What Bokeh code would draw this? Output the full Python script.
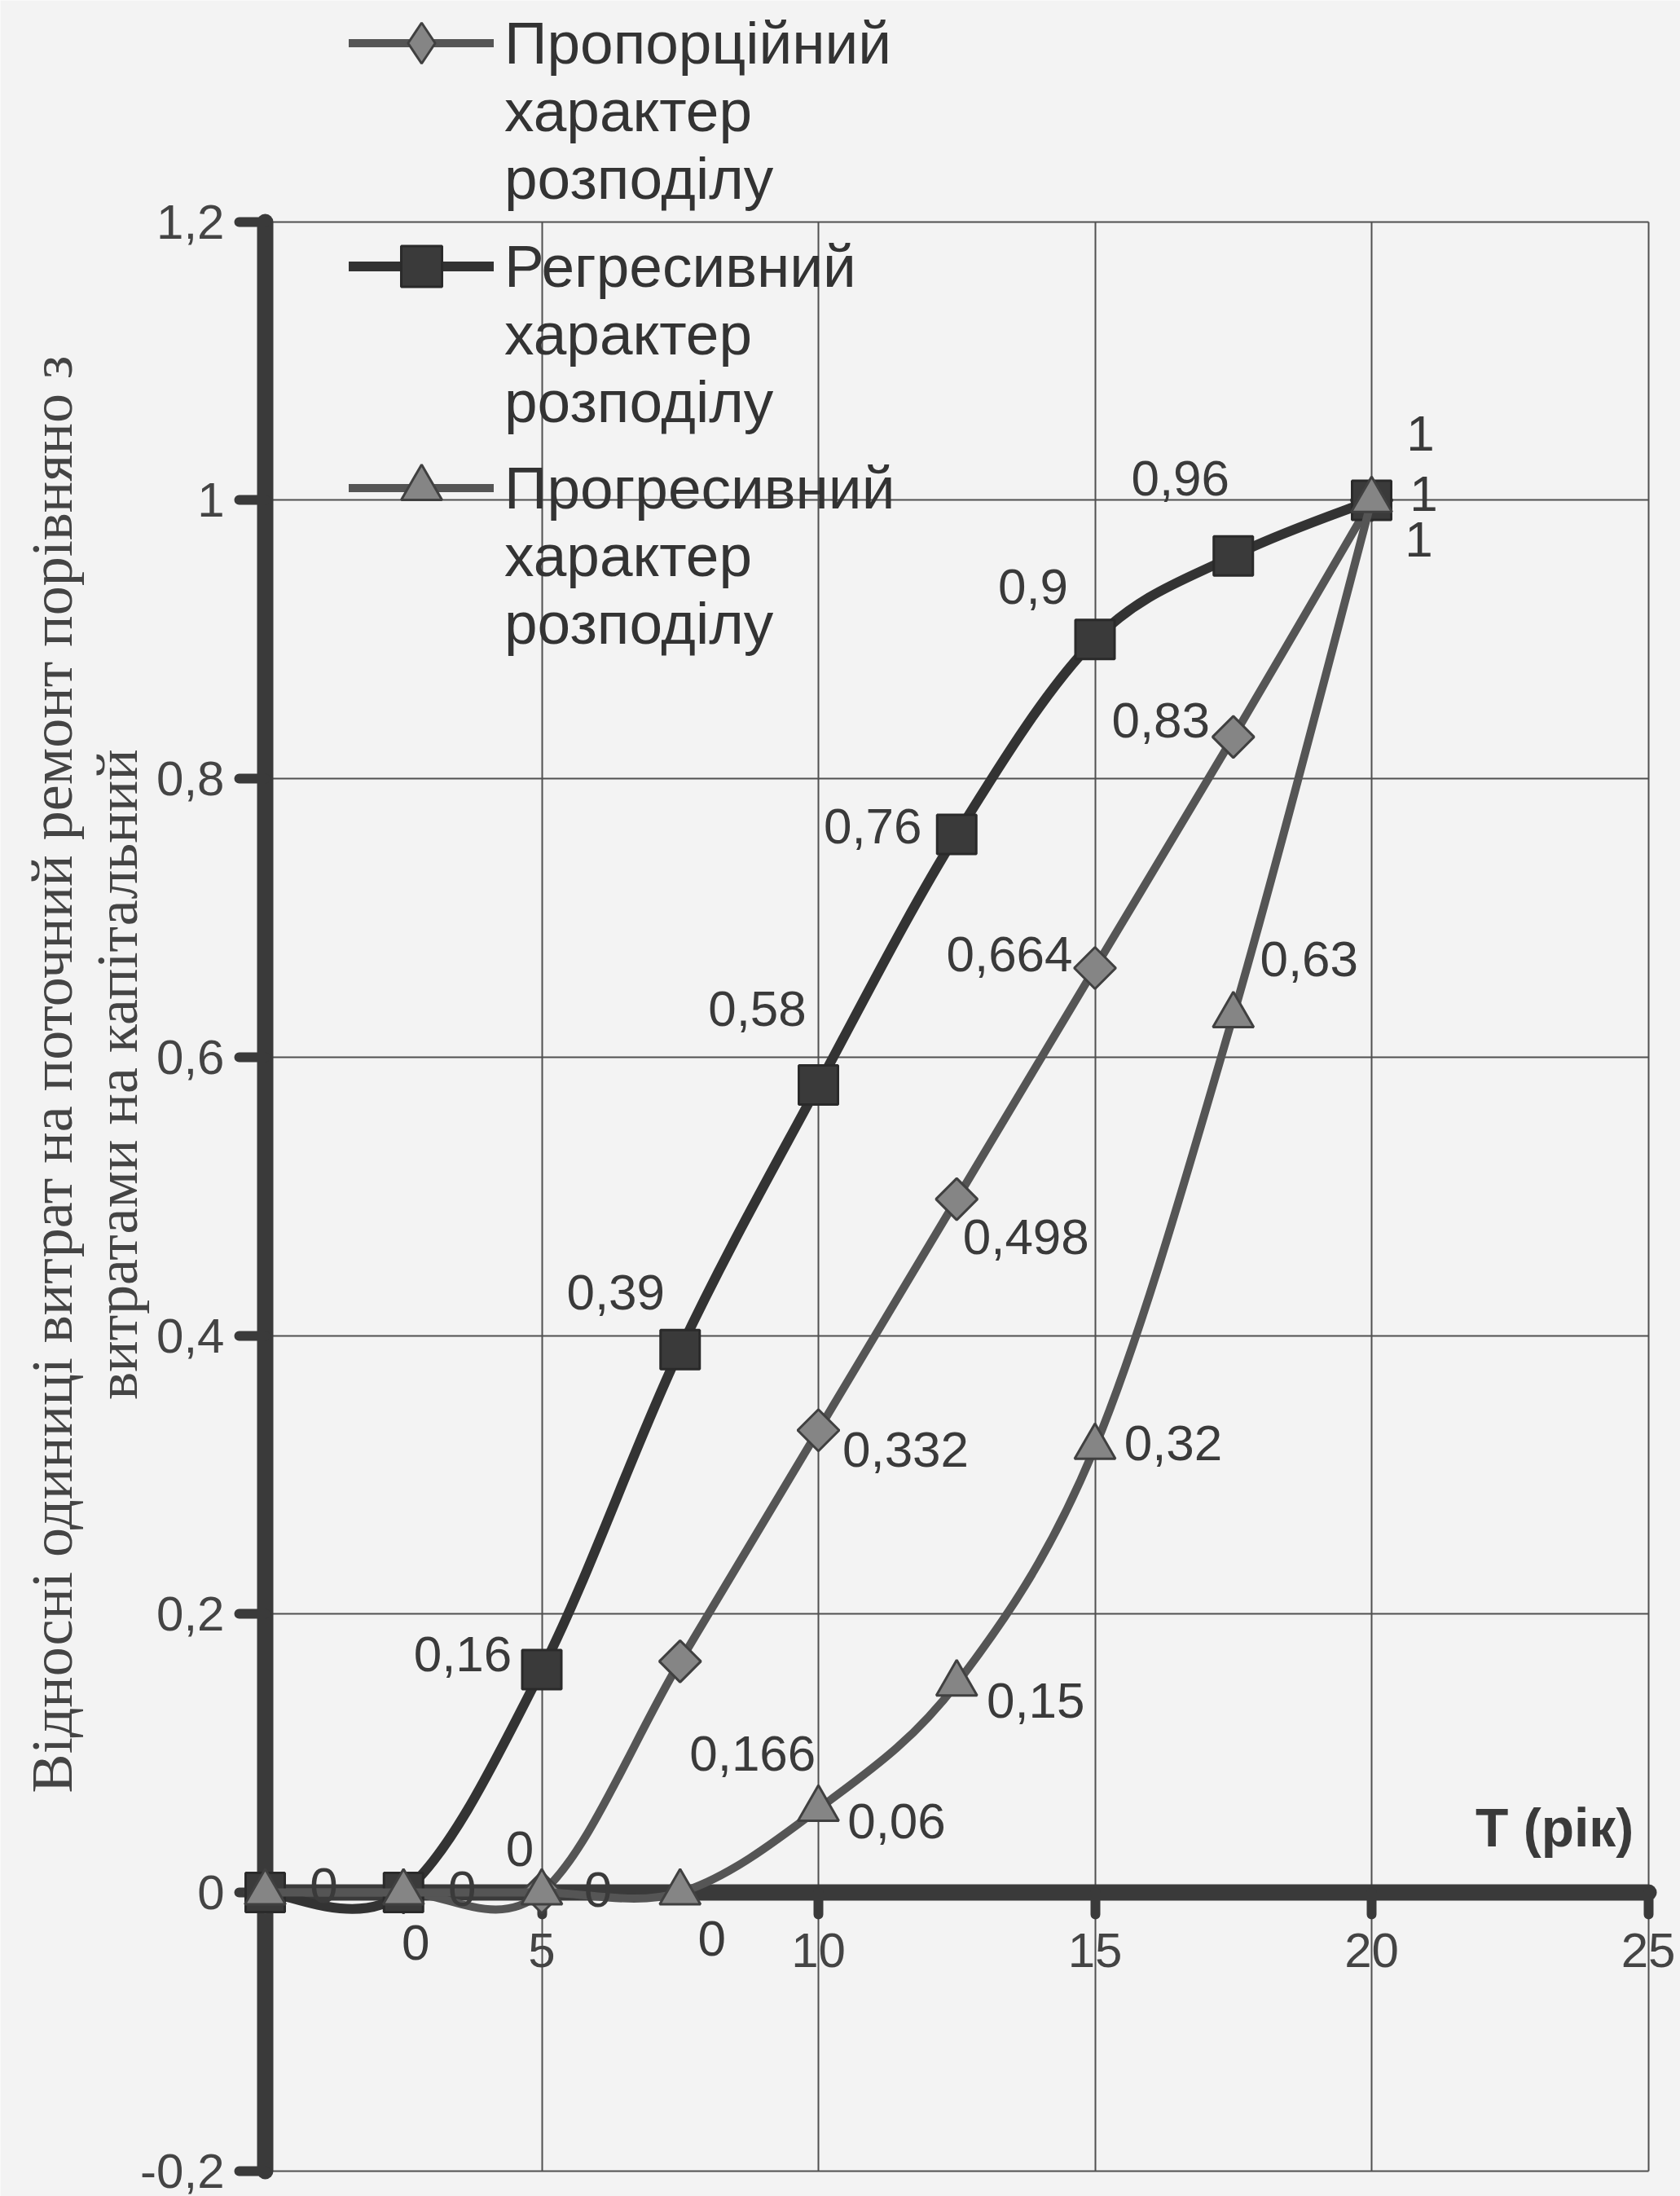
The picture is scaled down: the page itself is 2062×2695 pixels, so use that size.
import math
from bokeh.plotting import figure
from bokeh.models import (ColumnDataSource, Range1d, FixedTicker, Label, Legend,
                          LegendItem, CustomJSTickFormatter)
from bokeh.core.properties import value
from bokeh.embed import file_html
from bokeh.resources import INLINE

# ---------------- data ----------------
years = [0, 2.5, 5, 7.5, 10, 12.5, 15, 17.5, 20]
proportional = [0, 0, 0, 0.166, 0.332, 0.498, 0.664, 0.83, 1]
regressive = [0, 0, 0.16, 0.39, 0.58, 0.76, 0.9, 0.96, 1]
progressive = [0, 0, 0, 0, 0.06, 0.15, 0.32, 0.63, 1]

series_names = [
    "Пропорційний\nхарактер\nрозподілу",
    "Регресивний\nхарактер\nрозподілу",
    "Прогресивний\nхарактер\nрозподілу",
]

x_ticks = [0, 5, 10, 15, 20, 25]
x_tick_labels = ["", "5", "10", "15", "20", "25"]
y_ticks = [-0.2, 0, 0.2, 0.4, 0.6, 0.8, 1.0, 1.2]
y_tick_labels = ["-0,2", "0", "0,2", "0,4", "0,6", "0,8", "1", "1,2"]

y_title = "Відносні одиниці витрат на поточний ремонт порівняно з\nвитратами на капітальний"
x_title = "T (рік)"

# ---------------- styling ----------------
W, H = 2062, 2695
PX0, PXU = 325.0, 67.9      # pixel of x = 0, pixels per x unit
PY0, PYU = 2322.0, 1708.6   # pixel of y = 0, pixels per y unit
X_LO, X_HI = 0, 25
Y_LO, Y_HI = -0.2, 1.2

# data-label offsets in screen px (None = label hidden behind other marks)
off_prop = [(72, -9), (72, -5), (-27, -54), (89, 113), (107, 24), (85, 46), (-105, -17), (-89, -20), (64, -8)]
off_regr = [None, (15, 61), (-97, -19), (-79, -70), (-75, -94), (-103, -10), (-76, -65), (-65, -95), (60, -82)]
off_prog = [None, None, (69, -4), (39, 56), (96, 15), (97, 21), (96, -5), (93, -69), (58, 48)]

# legend: vertical screen position (px from top) of each entry's glyph / first text line
legend_rows = [50, 324, 596]
LINE_H = 84

FONT = "Liberation Sans"
BG = "#f3f3f3"
INK = "#3a3a3a"
GRID = "#505050"


def fmt(v):
    s = ("%.3f" % v).rstrip("0").rstrip(".")
    return s.replace(".", ",")


def bezier_source(xs, ys):
    n = len(xs)
    d = dict(x0=[], y0=[], x1=[], y1=[], cx0=[], cy0=[], cx1=[], cy1=[])
    for i in range(n - 1):
        xp, yp = (xs[i - 1], ys[i - 1]) if i > 0 else (xs[i], ys[i])
        xn, yn = (xs[i + 2], ys[i + 2]) if i + 2 < n else (xs[i + 1], ys[i + 1])
        d["x0"].append(xs[i]); d["y0"].append(ys[i])
        d["x1"].append(xs[i + 1]); d["y1"].append(ys[i + 1])
        d["cx0"].append(xs[i] + (xs[i + 1] - xp) / 6.0)
        d["cy0"].append(ys[i] + (ys[i + 1] - yp) / 6.0)
        d["cx1"].append(xs[i + 1] - (xn - xs[i]) / 6.0)
        d["cy1"].append(ys[i + 1] - (yn - ys[i]) / 6.0)
    return ColumnDataSource(d)


def label_source(xs, ys, offs):
    d = dict(x=[], y=[], t=[], dx=[], dy=[])
    for x, y, o in zip(xs, ys, offs):
        if o is None:
            continue
        d["x"].append(x); d["y"].append(y); d["t"].append(fmt(y))
        d["dx"].append(o[0]); d["dy"].append(o[1])
    return ColumnDataSource(d)


x_range = Range1d(-PX0 / PXU, (W - PX0) / PXU)
y_range = Range1d(-(H - PY0) / PYU, PY0 / PYU)

p = figure(width=W, height=H, x_range=x_range, y_range=y_range,
           output_backend="svg", toolbar_location=None, title=None,
           min_border_left=0, min_border_right=0, min_border_top=0, min_border_bottom=0)

p.background_fill_color = BG
p.border_fill_color = BG
p.outline_line_color = None

# grid (plot-area rectangle is formed by the grid lines at 25 / -0.2 / 1.2)
p.xgrid.ticker = FixedTicker(ticks=[t for t in x_ticks if t > X_LO])
p.ygrid.ticker = FixedTicker(ticks=y_ticks)
have_cross = p.xgrid[0].lookup("cross_bounds", raises=False) is not None
for g in (p.xgrid, p.ygrid):
    g.grid_line_color = GRID
    g.grid_line_width = 2
if have_cross:
    p.xgrid.cross_bounds = (Y_LO, Y_HI)
    p.ygrid.cross_bounds = (X_LO, X_HI)
else:
    p.xgrid.visible = False
    p.ygrid.visible = False
    gx = [t for t in x_ticks if t > X_LO]
    p.segment(x0=gx, y0=[Y_LO] * len(gx), x1=gx, y1=[Y_HI] * len(gx), line_color=GRID, line_width=2)
    p.segment(x0=[X_LO] * len(y_ticks), y0=y_ticks, x1=[X_HI] * len(y_ticks), y1=y_ticks,
              line_color=GRID, line_width=2)

# x axis crossing at y = 0
xa = p.xaxis[0]
xa.fixed_location = 0
xa.bounds = (X_LO, X_HI)
xa.ticker = FixedTicker(ticks=x_ticks)
xa.major_label_overrides = dict(zip(x_ticks, x_tick_labels))
xa.axis_line_width = 20
xa.axis_line_color = INK
xa.axis_line_cap = "round"
xa.major_tick_in = 0
xa.major_tick_out = 27
xa.major_tick_line_width = 12
xa.major_tick_line_color = INK
xa.major_tick_line_cap = "round"
xa.minor_tick_line_color = None
xa.major_label_standoff = 23
xa.major_label_text_font = FONT
xa.major_label_text_font_size = "60px"
xa.major_label_text_color = "#444444"

# y axis crossing at x = 0
ya = p.yaxis[0]
ya.fixed_location = 0
ya.bounds = (Y_LO, Y_HI)
ya.ticker = FixedTicker(ticks=y_ticks)
ya.formatter = CustomJSTickFormatter(code="return (Math.round(tick*10)/10).toString().replace('.', ',')")
ya.major_label_overrides = dict(zip(y_ticks, y_tick_labels))
ya.axis_line_width = 20
ya.axis_line_color = INK
ya.axis_line_cap = "round"
ya.major_tick_in = 0
ya.major_tick_out = 32
ya.major_tick_line_width = 12
ya.major_tick_line_color = INK
ya.major_tick_line_cap = "round"
ya.minor_tick_line_color = None
ya.major_label_standoff = 18
ya.major_label_text_font = FONT
ya.major_label_text_font_size = "60px"
ya.major_label_text_color = "#444444"

# series
styles = [
    dict(ys=proportional, offs=off_prop, line="#555555", lw=10, marker="square", angle=math.pi / 4,
         size=36, fill="#858585", mline="#404040", legend_marker="diamond"),
    dict(ys=regressive, offs=off_regr, line="#333333", lw=12, marker="square", angle=0,
         size=48, fill="#3a3a3a", mline="#2a2a2a", legend_marker=None),
    dict(ys=progressive, offs=off_prog, line="#555555", lw=10, marker="triangle", angle=0,
         size=50, fill="#858585", mline="#404040", legend_marker=None),
]

label_sources = []
for k, (name, st) in enumerate(zip(series_names, styles)):
    src = ColumnDataSource(dict(x=years, y=st["ys"]))
    rl = p.bezier(x0="x0", y0="y0", x1="x1", y1="y1", cx0="cx0", cy0="cy0", cx1="cx1", cy1="cy1",
                  source=bezier_source(years, st["ys"]), line_color=st["line"],
                  line_width=st["lw"], line_cap="round", level="overlay")
    rs = p.scatter(x="x", y="y", source=src, marker=st["marker"], size=st["size"], angle=st["angle"],
                   fill_color=st["fill"], line_color=st["mline"], line_width=3, level="overlay")
    label_sources.append(label_source(years, st["ys"], st["offs"]))
    legend_renderers = [rl, rs]
    if st["legend_marker"] is not None:
        # hidden twin used only as the legend swatch (the legend cannot rotate markers)
        swatch = p.scatter(x="x", y="y", source=src, marker=st["legend_marker"], size=st["size"],
                           fill_color=st["fill"], line_color=st["mline"], line_width=3,
                           level="overlay", visible=False)
        legend_renderers = [rl, swatch]
    # two leading blank lines keep the legend glyph level with the first line of the label
    item = LegendItem(label="\n\n" + name, renderers=legend_renderers)
    leg = Legend(items=[item], location=(428, H - (legend_rows[k] + 2.5 * LINE_H)),
                 orientation="vertical", background_fill_alpha=0, border_line_alpha=0,
                 inactive_fill_alpha=0,
                 label_text_font=FONT, label_text_font_size="73px", label_text_color="#333333",
                 label_text_line_height=1.24,
                 glyph_width=178, glyph_height=125, label_standoff=13,
                 spacing=0, padding=0, margin=0)
    p.add_layout(leg, "center")

for ls in label_sources:
    p.text(x="x", y="y", text="t", x_offset="dx", y_offset="dy", source=ls,
           text_font=value(FONT), text_font_size="62px", text_color="#3a3a3a",
           text_align="center", text_baseline="middle", level="overlay")

# axis titles
p.add_layout(Label(x=(103 - PX0) / PXU, y=(PY0 - 1318) / PYU, text=y_title, angle=math.pi / 2,
                   text_align="center", text_baseline="middle",
                   text_font="Liberation Serif", text_font_size="72px",
                   text_color="#444444", text_line_height=1.0))
p.add_layout(Label(x=24.74, y=0.0468, text=x_title, text_align="right",
                   text_baseline="alphabetic", text_font=FONT, text_font_style="bold",
                   text_font_size="66px", text_color="#3a3a3a"))

open("out.html", "w").write(file_html(p, INLINE))
